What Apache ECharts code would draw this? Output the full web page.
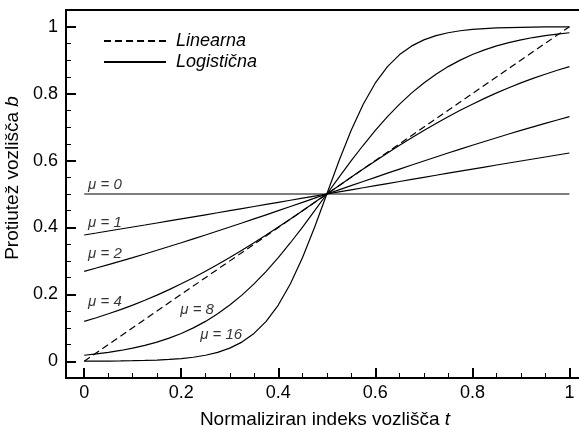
<!DOCTYPE html>
<html>
<head>
<meta charset="utf-8">
<script src="https://cdn.jsdelivr.net/npm/echarts@6/dist/echarts.min.js"></script>
<style>html,body{margin:0;padding:0;background:#fff;}#c{width:579px;height:425px;}</style>
</head>
<body>
<div id="c"></div>
<script>
// ---- DATA ----
const tValues = [0,0.025,0.05,0.075,0.1,0.125,0.15,0.175,0.2,0.225,0.25,0.275,0.3,0.325,0.35,0.375,0.4,0.425,0.45,0.475,0.5,
  0.525,0.55,0.575,0.6,0.625,0.65,0.675,0.7,0.725,0.75,0.775,0.8,0.825,0.85,0.875,0.9,0.925,0.95,0.975,1];
const mu0 = [0.5,0.5,0.5,0.5,0.5,0.5,0.5,0.5,0.5,0.5,0.5,0.5,0.5,0.5,0.5,0.5,0.5,0.5,0.5,0.5,0.5,
  0.5,0.5,0.5,0.5,0.5,0.5,0.5,0.5,0.5,0.5,0.5,0.5,0.5,0.5,0.5,0.5,0.5,0.5,0.5,0.5];
const mu1 = [0.3775,0.3834,0.3894,0.3953,0.4013,0.4073,0.4134,0.4195,0.4256,0.4317,0.4378,0.4440,0.4502,0.4564,0.4626,0.4688,0.4750,0.4813,0.4875,0.4938,0.5,
  0.5062,0.5125,0.5187,0.5250,0.5312,0.5374,0.5436,0.5498,0.5560,0.5622,0.5683,0.5744,0.5805,0.5866,0.5927,0.5987,0.6047,0.6106,0.6166,0.6225];
const mu2 = [0.2689,0.2789,0.2891,0.2994,0.3100,0.3208,0.3318,0.3430,0.3543,0.3659,0.3775,0.3894,0.4013,0.4134,0.4256,0.4378,0.4502,0.4626,0.4750,0.4875,0.5,
  0.5125,0.5250,0.5374,0.5498,0.5622,0.5744,0.5866,0.5987,0.6106,0.6225,0.6341,0.6457,0.6570,0.6682,0.6792,0.6900,0.7006,0.7109,0.7211,0.7311];
const mu4 = [0.1192,0.1301,0.1419,0.1545,0.1680,0.1824,0.1978,0.2142,0.2315,0.2497,0.2689,0.2891,0.3100,0.3318,0.3543,0.3775,0.4013,0.4256,0.4502,0.4750,0.5,
  0.5250,0.5498,0.5744,0.5987,0.6225,0.6457,0.6682,0.6900,0.7109,0.7311,0.7503,0.7685,0.7858,0.8022,0.8176,0.8320,0.8455,0.8581,0.8699,0.8808];
const mu8 = [0.0180,0.0219,0.0266,0.0323,0.0392,0.0474,0.0573,0.0691,0.0832,0.0998,0.1192,0.1419,0.1680,0.1978,0.2315,0.2689,0.3100,0.3543,0.4013,0.4502,0.5,
  0.5498,0.5987,0.6457,0.6900,0.7311,0.7685,0.8022,0.8320,0.8581,0.8808,0.9002,0.9168,0.9309,0.9427,0.9526,0.9608,0.9677,0.9734,0.9781,0.9820];
const mu16 = [0.0003,0.0005,0.0007,0.0011,0.0017,0.0025,0.0037,0.0055,0.0082,0.0121,0.0180,0.0266,0.0392,0.0573,0.0832,0.1192,0.1680,0.2315,0.3100,0.4013,0.5,
  0.5987,0.6900,0.7685,0.8320,0.8808,0.9168,0.9427,0.9608,0.9734,0.9820,0.9879,0.9918,0.9945,0.9963,0.9975,0.9983,0.9989,0.9993,0.9995,0.9997];
const linT = [0, 1];
const linB = [0, 1];
const muLabels = ['μ = 0','μ = 1','μ = 2','μ = 4','μ = 8','μ = 16'];
const muLabelT = [0.008,0.008,0.008,0.008,0.198,0.239];
const muLabelB = [0.527,0.414,0.321,0.177,0.154,0.079];
const majorTicks = [0,0.2,0.4,0.6,0.8,1];
const minorTicks = [0,0.05,0.1,0.15,0.2,0.25,0.3,0.35,0.4,0.45,0.5,0.55,0.6,0.65,0.7,0.75,0.8,0.85,0.9,0.95,1];
const legendNames = ['Linearna','Logistična'];

// ---- CHART ----
const FONT = 'Liberation Sans, Arial, Helvetica, sans-serif';
const pairs = (xs, ys) => xs.map((x, i) => [x, ys[i]]);
const chart = echarts.init(document.getElementById('c'), null, {renderer: 'canvas'});
const logisticSets = [mu0, mu1, mu2, mu4, mu8, mu16];
const logisticSeries = logisticSets.map(arr => ({
  name: legendNames[1], type: 'line', xAxisIndex: 0, yAxisIndex: 0,
  data: pairs(tValues, arr), symbol: 'none', smooth: false,
  lineStyle: {color: '#000', width: 1.2}, itemStyle: {color: '#000'},
  silent: true, animation: false, z: 3
}));
const xRange = {min: -0.0375, max: 1.03};
const yRange = {min: -0.05, max: 1.05};
const option = {
  backgroundColor: '#fff',
  animation: false,
  grid: {left: 66, top: 10, height: 368, width: 518, show: true, borderColor: '#000', borderWidth: 2,
         containLabel: false, outerBoundsMode: 'none'},
  legend: {
    data: legendNames.map(n => ({name: n, itemStyle: {opacity: 0}})),
    orient: 'vertical', left: 103, top: 32, padding: 0,
    itemWidth: 62, itemHeight: 14, itemGap: 3,
    textStyle: {fontFamily: FONT, fontSize: 18, fontStyle: 'italic', color: '#000', padding: [0,0,0,5]},
    selectedMode: false
  },
  xAxis: [
    Object.assign({type: 'value', position: 'bottom', gridIndex: 0,
      axisLine: {onZero: false, lineStyle: {color: '#000', width: 2}},
      axisTick: {inside: true, length: 10, customValues: majorTicks, lineStyle: {color: '#000', width: 2}},
      axisLabel: {customValues: majorTicks, color: '#000', fontFamily: FONT, fontSize: 18, margin: 6},
      splitLine: {show: false},
      name: 'Normaliziran indeks vozlišča {i|t}', nameLocation: 'middle', nameGap: 32,
      nameTextStyle: {color: '#000', fontFamily: FONT, fontSize: 19,
        rich: {i: {fontStyle: 'italic', fontFamily: FONT, fontSize: 19, color: '#000'}}}
    }, xRange),
    Object.assign({type: 'value', position: 'bottom', gridIndex: 0,
      axisLine: {show: false, onZero: false},
      axisTick: {inside: true, length: 5, customValues: minorTicks, lineStyle: {color: '#000', width: 1}},
      axisLabel: {show: false}, splitLine: {show: false}
    }, xRange)
  ],
  yAxis: [
    Object.assign({type: 'value', position: 'left', gridIndex: 0,
      axisLine: {onZero: false, lineStyle: {color: '#000', width: 2}},
      axisTick: {inside: true, length: 10, customValues: majorTicks, lineStyle: {color: '#000', width: 2}},
      axisLabel: {customValues: majorTicks, color: '#000', fontFamily: FONT, fontSize: 18, margin: 8},
      splitLine: {show: false},
      name: 'Protiutež vozlišča {i|b}', nameLocation: 'middle', nameGap: 26,
      nameTextStyle: {color: '#000', fontFamily: FONT, fontSize: 19, padding: [12, 0, 0, 32],
        rich: {i: {fontStyle: 'italic', fontFamily: FONT, fontSize: 19, color: '#000'}}}
    }, yRange),
    Object.assign({type: 'value', position: 'left', gridIndex: 0,
      axisLine: {show: false, onZero: false},
      axisTick: {inside: true, length: 5, customValues: minorTicks, lineStyle: {color: '#000', width: 1}},
      axisLabel: {show: false}, splitLine: {show: false}
    }, yRange)
  ],
  series: [
    {name: legendNames[0], type: 'line', data: pairs(linT, linB), symbol: 'none',
     lineStyle: {color: '#000', width: 1.2, type: [7, 4]}, itemStyle: {color: '#000'},
     silent: true, animation: false, z: 3}
  ].concat(logisticSeries).concat([
    {name: 'labels', type: 'scatter', symbolSize: 0, silent: true,
     data: muLabelT.map((t, i) => [t, muLabelB[i], muLabels[i]]),
     label: {show: true, position: 'right', distance: 0, formatter: p => p.value[2],
       color: '#000', fontFamily: FONT, fontSize: 15, fontStyle: 'italic'}}
  ])
};
chart.setOption(option);
</script>
</body>
</html>
